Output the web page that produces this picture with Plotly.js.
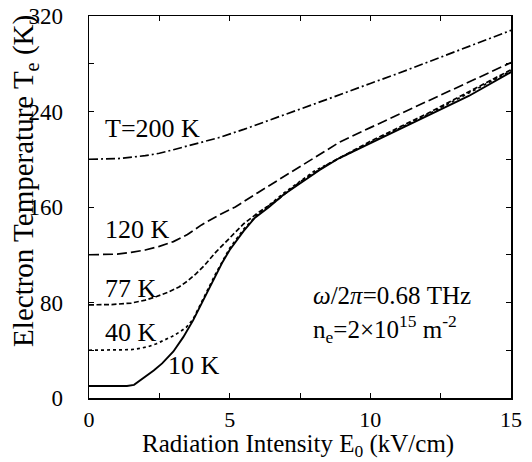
<!DOCTYPE html>
<html>
<head>
<meta charset="utf-8">
<script src="https://cdn.plot.ly/plotly-3.0.1.min.js"></script>
<style>html,body{margin:0;padding:0;background:#fff;}#chart{width:532px;height:462px;}</style>
</head>
<body>
<div id="chart"></div>
<script>
// Series: electron temperature Te (K) vs radiation intensity E0 (kV/cm)
const E_10K = [0, 1.35, 1.6, 1.9, 2.3, 2.6, 3.0, 3.35, 3.7, 4.0, 4.25, 4.5, 4.75, 5.0, 5.5, 5.9, 6.4, 6.9, 7.5, 8.2, 8.9, 9.6, 10.5, 11.9, 13.5, 15];
const T_10K = [10, 10, 11, 16, 23, 29, 39, 51, 65, 79, 91, 103, 114, 124, 140, 151, 160, 170, 180, 191, 201, 209, 219, 235, 253, 273];

const E_40K = [0, 1, 1.5, 1.8, 2.1, 2.4, 2.7, 2.95, 3.2, 3.45, 3.7, 4.0, 4.5, 5.0, 5.5, 6.0, 7.0, 8.0, 10, 12, 15];
const T_40K = [40, 40.1, 40.5, 41.5, 43, 45.5, 48.5, 51.5, 55, 59, 66, 80, 104, 125.5, 141.5, 154, 173, 190, 214, 237, 274];

const E_77K = [0, 0.8, 1.5, 2.0, 2.4, 2.8, 3.2, 3.5, 3.8, 4.1, 4.5, 5.0, 5.5, 6.0, 6.7, 7.5, 8.5, 10, 12, 15];
const T_77K = [78, 78.3, 79.5, 82, 85, 88.5, 93, 98, 104, 111, 122, 134, 146, 155, 166, 181, 196, 215, 238, 275];

const E_120K = [0, 1, 1.5, 2, 2.5, 3, 3.5, 4, 4.6, 5.2, 6, 7.15, 8.0, 8.92, 10, 11.88, 13.5, 15];
const T_120K = [120, 120.5, 122, 124, 127, 131, 137, 145, 153, 160, 172, 189, 201.5, 214.5, 226.5, 247, 264, 281];

const E_200K = [0, 1, 2, 2.5, 3, 4, 4.6, 5.5, 6.3, 7.5, 8.5, 9.0, 10, 11, 12, 13, 14.1, 15];
const T_200K = [200, 200.5, 203, 205, 208, 214, 218, 225, 232, 242, 250.5, 255, 263.5, 272, 281, 290, 299.5, 308];

const xTicks = [0, 5, 10, 15];
const yTicks = [0, 80, 160, 240, 320];

const FONT = "Liberation Serif";

const base = {mode: 'lines', showlegend: false, hoverinfo: 'skip'};
const data = [
  Object.assign({x: E_200K, y: T_200K, line: {color: '#000', width: 1.7, dash: '9px,3px,2px,3px'}}, base),
  Object.assign({x: E_120K, y: T_120K, line: {color: '#000', width: 1.7, dash: '10px,4px'}}, base),
  Object.assign({x: E_77K, y: T_77K, line: {color: '#000', width: 1.7, dash: '5px,2.5px'}}, base),
  Object.assign({x: E_40K, y: T_40K, line: {color: '#000', width: 1.7, dash: 'dot'}}, base),
  Object.assign({x: E_10K, y: T_10K, line: {color: '#000', width: 1.9}}, base)
];

const axisCommon = {
  showgrid: false, zeroline: false, showline: true, linecolor: '#000', linewidth: 1.5,
  mirror: 'ticks', ticks: 'inside', ticklen: 5, tickwidth: 1, tickcolor: '#000',
  tickfont: {family: FONT, size: 23, color: '#000'}
};

const layout = {
  width: 532, height: 462,
  margin: {l: 89, r: 21, t: 16, b: 64},
  paper_bgcolor: '#fff', plot_bgcolor: '#fff',
  font: {family: FONT, color: '#000'},
  xaxis: Object.assign({}, axisCommon, {
    range: [0, 15], tickvals: xTicks, ticktext: xTicks.map(String),
    tickfont: {family: FONT, size: 22, color: '#000'},
    minor: {dtick: 2.5, tick0: 0, ticks: 'inside', ticklen: 5, tickcolor: '#000', tickwidth: 1},
    ticklabelstandoff: 1
  }),
  yaxis: Object.assign({}, axisCommon, {
    range: [0, 320], tickvals: yTicks, ticktext: yTicks.map(String),
    minor: {dtick: 40, tick0: 0, ticks: 'inside', ticklen: 5, tickcolor: '#000', tickwidth: 1},
    ticklabelstandoff: 20
  }),
  annotations: [
    {xref: 'paper', yref: 'paper', x: 0.495, y: -0.124, xanchor: 'center', yanchor: 'middle', text: 'Radiation Intensity E<sub>0</sub> (kV/cm)', showarrow: false, font: {family: FONT, size: 25}},
    {xref: 'paper', yref: 'paper', x: -0.152, y: 0.568, xanchor: 'center', yanchor: 'middle', text: 'Electron Temperature T<sub>e</sub> (K)', textangle: -90, showarrow: false, font: {family: FONT, size: 29}},
    {x: 0.5, y: 226, xanchor: 'left', text: 'T=200 K', showarrow: false, font: {family: FONT, size: 26}},
    {x: 0.5, y: 141, xanchor: 'left', text: '120 K', showarrow: false, font: {family: FONT, size: 26}},
    {x: 0.5, y: 92, xanchor: 'left', text: '77 K', showarrow: false, font: {family: FONT, size: 26}},
    {x: 0.5, y: 54.5, xanchor: 'left', text: '40 K', showarrow: false, font: {family: FONT, size: 26}},
    {x: 2.72, y: 27.5, xanchor: 'left', text: '10 K', showarrow: false, font: {family: FONT, size: 26}},
    {x: 7.9, y: 86, xanchor: 'left', text: '<i>ω</i>/2<i>π</i>=0.68 THz', showarrow: false, font: {family: FONT, size: 25}},
    {x: 7.9, y: 57.5, xanchor: 'left', text: 'n<sub>e</sub>=2×10<sup>15</sup> m<sup>-2</sup>', showarrow: false, font: {family: FONT, size: 25}}
  ]
};

Plotly.newPlot('chart', data, layout, {displayModeBar: false, staticPlot: true});
</script>
</body>
</html>
